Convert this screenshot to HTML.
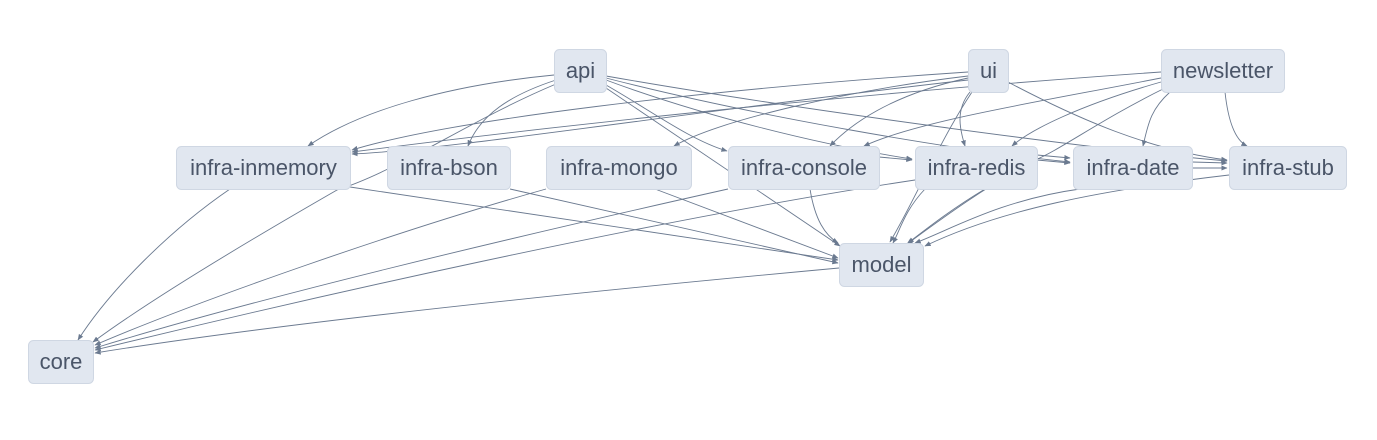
<!DOCTYPE html>
<html><head><meta charset="utf-8"><style>
html,body{margin:0;padding:0;background:#fff;width:1377px;height:440px;overflow:hidden}
svg{display:block}
text{font-family:"Liberation Sans","DejaVu Sans",sans-serif;font-size:22px;fill:#4a5568}
.n{fill:#e1e7f0;stroke:#cfd7e3;stroke-width:1}
.e{fill:none;stroke:#6b7a90;stroke-width:0.9}
</style></head><body>
<svg width="1377" height="440" viewBox="0 0 1377 440">
<defs><marker id="a" viewBox="0 0 10 10" refX="9" refY="5" markerWidth="7" markerHeight="7" orient="auto"><path d="M0,1 L10,5 L0,9z" fill="#6b7a90"/></marker></defs>
<g class="e" marker-end="url(#a)">
<path d="M554,75 C450,85 360,110 308,146"/>
<path d="M556,80 C510,95 480,115 468,146"/>
<path d="M556,84 C470,120 400,170 337,190 C250,240 150,300 93,342"/>
<path d="M606,88 L840,246"/>
<path d="M606,85 C650,110 690,140 727,151"/>
<path d="M606,80 C700,115 820,145 912,159"/>
<path d="M606,78 C750,115 950,150 1070,162"/>
<path d="M606,76 C800,110 1100,150 1227,161"/>
<path d="M968,76 C850,90 720,120 674,146"/>
<path d="M968,78 C890,95 850,125 830,146"/>
<path d="M970,92 C955,110 960,130 965,146"/>
<path d="M972,92 C940,140 915,200 890,242"/>
<path d="M968,72 C700,90 450,120 352,150"/>
<path d="M968,80 C700,110 450,150 352,154"/>
<path d="M1008,82 C1080,120 1150,150 1227,160"/>
<path d="M1161,72 C900,90 600,120 352,152"/>
<path d="M1161,78 C1050,100 920,120 864,146"/>
<path d="M1161,82 C1080,105 1030,130 1012,146"/>
<path d="M1170,92 C1150,110 1148,125 1143,146"/>
<path d="M1225,92 C1228,120 1235,140 1247,146"/>
<path d="M1165,88 C1100,120 1060,150 1035,160 C980,190 940,220 907,244"/>
<path d="M879,157 L912,160"/>
<path d="M1037,160 L1070,163"/>
<path d="M1192,162 L1227,163"/>
<path d="M1192,168 L1227,168"/>
<path d="M1037,155 L1070,158"/>
<path d="M350,187 L838,260"/>
<path d="M510,189 L838,263"/>
<path d="M655,189 L838,258"/>
<path d="M810,189 C815,220 825,235 838,243"/>
<path d="M925,189 C905,210 900,230 893,243"/>
<path d="M985,189 C950,210 925,230 908,243"/>
<path d="M1080,189 C1000,200 950,230 915,243"/>
<path d="M1229,175 C1100,190 1000,210 925,246"/>
<path d="M230,189 C170,230 110,290 78,340"/>
<path d="M546,189 C400,230 200,300 95,345"/>
<path d="M728,189 C500,240 250,300 95,348"/>
<path d="M915,180 C650,220 300,300 95,350"/>
<path d="M839,268 C600,290 300,320 95,353"/>
</g>
<g>
<rect class="n" x="554.5" y="49.5" width="52" height="43" rx="5"/><text x="580.5" y="78" text-anchor="middle">api</text>
<rect class="n" x="968.5" y="49.5" width="40" height="43" rx="5"/><text x="988.5" y="78" text-anchor="middle">ui</text>
<rect class="n" x="1161.5" y="49.5" width="123" height="43" rx="5"/><text x="1223" y="78" text-anchor="middle">newsletter</text>
<rect class="n" x="176.5" y="146.5" width="174" height="43" rx="5"/><text x="263.5" y="175" text-anchor="middle">infra-inmemory</text>
<rect class="n" x="387.5" y="146.5" width="123" height="43" rx="5"/><text x="449" y="175" text-anchor="middle">infra-bson</text>
<rect class="n" x="546.5" y="146.5" width="145" height="43" rx="5"/><text x="619" y="175" text-anchor="middle">infra-mongo</text>
<rect class="n" x="728.5" y="146.5" width="151" height="43" rx="5"/><text x="804" y="175" text-anchor="middle">infra-console</text>
<rect class="n" x="915.5" y="146.5" width="122" height="43" rx="5"/><text x="976.5" y="175" text-anchor="middle">infra-redis</text>
<rect class="n" x="1073.5" y="146.5" width="119" height="43" rx="5"/><text x="1133" y="175" text-anchor="middle">infra-date</text>
<rect class="n" x="1229.5" y="146.5" width="117" height="43" rx="5"/><text x="1288" y="175" text-anchor="middle">infra-stub</text>
<rect class="n" x="839.5" y="243.5" width="84" height="43" rx="5"/><text x="881.5" y="272" text-anchor="middle">model</text>
<rect class="n" x="28.5" y="340.5" width="65" height="43" rx="5"/><text x="61" y="369" text-anchor="middle">core</text>
</g>
</svg>
</body></html>
